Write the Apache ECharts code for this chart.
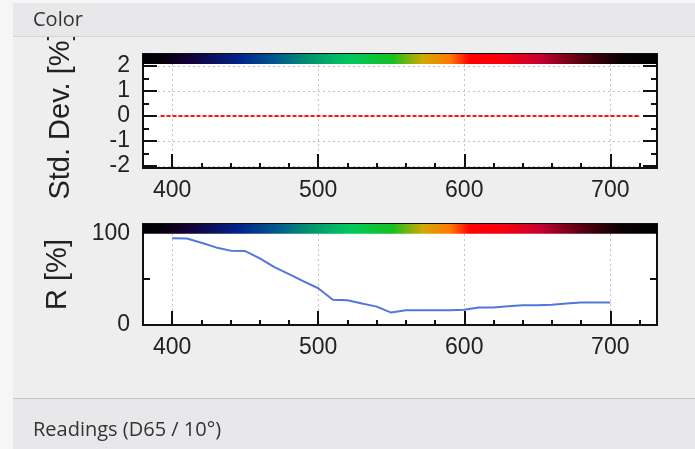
<!DOCTYPE html>
<html><head><meta charset="utf-8">
<script src="https://cdn.jsdelivr.net/npm/echarts@6/dist/echarts.min.js"></script>
<style>html,body{margin:0;padding:0;background:#fff}#c{width:695px;height:449px}</style>
</head><body><div id="c"></div>
<script>
// ---- data ----
const wavelengths = [400,410,420,430,440,450,460,470,480,490,500,510,520,530,540,550,560,570,580,590,600,610,620,630,640,650,660,670,680,690,700];
const reflectance = [94.5,94.2,89.5,84.5,81,80.5,72.5,63,55.5,47.5,40,27.5,27,23.5,20,13.5,16,16,16,16,16.5,19,19,20.5,21.5,21.5,22,23.5,24.5,24.5,24.5];
const stdDevWavelengths = [392,400,410,420,430,440,450,460,470,480,490,500,510,520,530,540,550,560,570,580,590,600,610,620,630,640,650,660,670,680,690,700,710,720];
const stdDevValues = [0,0,0,0,0,0,0,0,0,0,0,0,0,0,0,0,0,0,0,0,0,0,0,0,0,0,0,0,0,0,0,0,0,0];
const xTickLabels = [400,500,600,700];
const xMinorTicks = [420,440,460,480,520,540,560,580,620,640,660,680,720];
const stdDevTickLabels = [-2,-1,0,1,2];
const stdDevMinorTicks = [-1.5,-0.5,0.5,1.5];
const rTickLabels = [0,100];
const rTicks = [50];

const FONT = '"Liberation Sans", Arial, sans-serif';
const UIFONT = '"Open Sans", "Noto Sans", sans-serif';
const TICK = {color:'#111', width:2};
const GRIDLINE = {color:'#c4c4c4', width:1, type:[2,3]};

function spectrumGradient(){
  return new echarts.graphic.LinearGradient(0,0,1,0,[
    {offset:0, color:'#000000'},
    {offset:0.035, color:'#050008'},
    {offset:0.09, color:'#140036'},
    {offset:0.19, color:'#00258c'},
    {offset:0.26, color:'#005a8c'},
    {offset:0.32, color:'#009070'},
    {offset:0.40, color:'#00c860'},
    {offset:0.485, color:'#14c020'},
    {offset:0.545, color:'#d2aa00'},
    {offset:0.597, color:'#ff7a00'},
    {offset:0.636, color:'#ff0000'},
    {offset:0.705, color:'#f40010'},
    {offset:0.77, color:'#c80030'},
    {offset:0.85, color:'#5a0010'},
    {offset:0.93, color:'#0a0002'},
    {offset:1, color:'#000000'}
  ]);
}

const xMin = 380, xMax = 732;
function xMajor(g){
  return {gridIndex:g, type:'value', min:xMin, max:xMax, position:'bottom',
    axisLine:{show:false, onZero:false},
    axisTick:{show:true, inside:true, length:14, customValues:xTickLabels, lineStyle:TICK},
    axisLabel:{show:true, customValues:xTickLabels, fontSize:23, color:'#222', margin:11, fontFamily:FONT},
    splitLine:{show:true, lineStyle:GRIDLINE}};
}
function xMinor(g){
  return {gridIndex:g, type:'value', min:xMin, max:xMax, position:'bottom',
    axisLine:{show:false, onZero:false},
    axisTick:{show:true, inside:true, length:5, customValues:xMinorTicks, lineStyle:TICK},
    axisLabel:{show:false}, splitLine:{show:false}};
}
function yAx(g, min, max, pos, ticks, len, labels, split, extra){
  return Object.assign({gridIndex:g, type:'value', min:min, max:max, position:pos,
    axisLine:{show:false, onZero:false},
    axisTick:{show:true, inside:true, length:len, customValues:ticks, lineStyle:TICK},
    axisLabel: labels ? {show:true, customValues:labels, fontSize:23, color:'#222', margin:13, fontFamily:FONT} : {show:false},
    splitLine: split ? {show:true, lineStyle:GRIDLINE} : {show:false}}, extra||{});
}

const sdMin = -2.08, sdMax = 2.48, rMin = 0, rMax = 110;

const option = {
  animation:false,
  backgroundColor:'#eeeeef',
  grid:[
    {left:143, top:54, width:514, height:114, show:true, backgroundColor:'#fff', borderColor:'#111', borderWidth:2, outerBoundsMode:'none'},
    {left:143, top:224, width:514, height:101, show:true, backgroundColor:'#fff', borderColor:'#111', borderWidth:2, outerBoundsMode:'none'}
  ],
  xAxis:[xMajor(0), xMinor(0), xMajor(1), xMinor(1)],
  yAxis:[
    yAx(0, sdMin, sdMax, 'left', stdDevTickLabels, 14, stdDevTickLabels, true,
        {name:'Std. Dev. [%]', nameLocation:'middle', nameRotate:90, nameGap:68,
         nameTextStyle:{fontSize:29, color:'#222', fontFamily:FONT, padding:[0,10,0,0]}}),
    yAx(0, sdMin, sdMax, 'left', stdDevMinorTicks, 6, null, false),
    yAx(0, sdMin, sdMax, 'right', stdDevTickLabels, 14, null, false),
    yAx(0, sdMin, sdMax, 'right', stdDevMinorTicks, 6, null, false),
    yAx(1, rMin, rMax, 'left', rTicks, 7, rTickLabels, false,
        {name:'R [%]', nameLocation:'middle', nameRotate:90, nameGap:71,
         nameTextStyle:{fontSize:29, color:'#222', fontFamily:FONT}}),
    yAx(1, rMin, rMax, 'right', rTicks, 7, null, false)
  ],
  series:[
    {type:'line', xAxisIndex:0, yAxisIndex:0, silent:true, showSymbol:false,
     data: stdDevWavelengths.map((w,i)=>[w, stdDevValues[i]]),
     lineStyle:{color:'#ff1414', width:2, type:[4,2]},
     markArea:{silent:true, itemStyle:{color:spectrumGradient(), opacity:1},
       data:[[{xAxis:xMin, yAxis:2.08},{xAxis:xMax, yAxis:sdMax}]]}},
    {type:'line', xAxisIndex:2, yAxisIndex:4, silent:true, showSymbol:false,
     data: wavelengths.map((w,i)=>[w, reflectance[i]]),
     lineStyle:{color:'#5276dc', width:2},
     markArea:{silent:true, itemStyle:{color:spectrumGradient(), opacity:1},
       data:[[{xAxis:xMin, yAxis:99.5},{xAxis:xMax, yAxis:rMax}]]}}
  ],
  graphic:[
    {type:'rect', z:-5, shape:{x:0,y:0,width:13,height:449}, style:{fill:'#f6f6f6'}},
    {type:'rect', z:100, shape:{x:13,y:3,width:682,height:33}, style:{fill:'#e8e8ea'}},
    {type:'rect', z:100, shape:{x:0,y:0,width:695,height:3}, style:{fill:'#f6f6f6'}},
    {type:'rect', z:100, shape:{x:0,y:0,width:13,height:36}, style:{fill:'#f6f6f6'}},
    {type:'line', z:101, shape:{x1:13,y1:36.5,x2:695,y2:36.5}, style:{stroke:'#d2d2d2', lineWidth:1}},
    {type:'text', z:102, x:33, y:20, style:{text:'Color', font:'20px '+UIFONT, fill:'#333', verticalAlign:'middle'}},
    {type:'rect', z:100, shape:{x:13,y:399,width:682,height:50}, style:{fill:'#e8e8ea'}},
    {type:'line', z:101, shape:{x1:13,y1:398.5,x2:695,y2:398.5}, style:{stroke:'#c6c6c6', lineWidth:1}},
    {type:'text', z:102, x:33, y:430, style:{text:'Readings (D65 / 10°)', font:'20px '+UIFONT, fill:'#333', verticalAlign:'middle'}}
  ]
};
const chart = echarts.init(document.getElementById('c'));
chart.setOption(option);
</script>
</body></html>
